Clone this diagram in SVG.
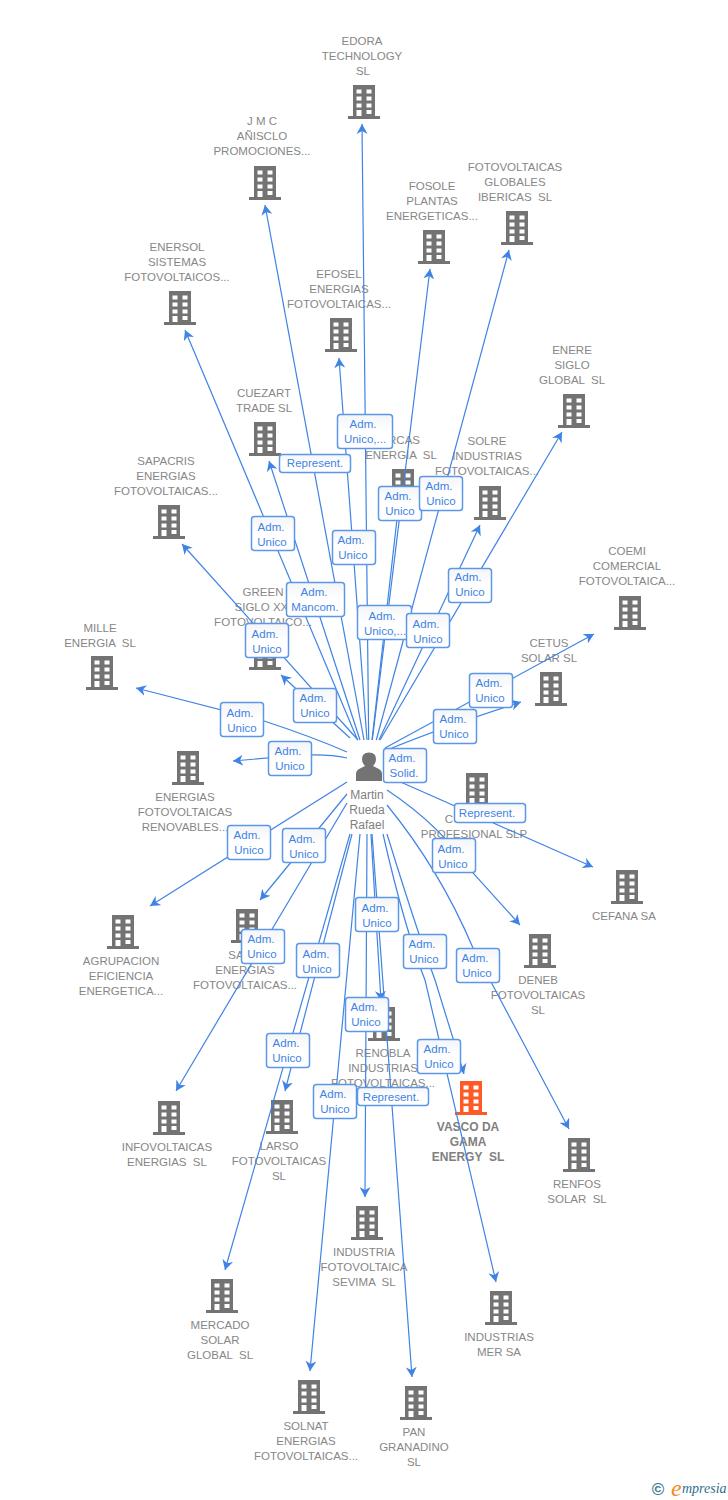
<svg xmlns="http://www.w3.org/2000/svg" width="728" height="1500" viewBox="0 0 728 1500">
<style>
text{font-family:"Liberation Sans",Arial,sans-serif;white-space:pre}
.n{font-size:11.5px;fill:#878787;text-anchor:middle}
.o{font-size:12px;fill:#808080;text-anchor:middle;font-weight:bold}
.p{font-size:12px;fill:#808080;text-anchor:middle}
.c{fill:none;stroke:#3f83e4;stroke-width:1.2;marker-end:url(#a)}
.d{fill:none;stroke:#3f83e4;stroke-width:1.2}
.b{fill:url(#g);stroke:#5b97e8;stroke-width:1.5}
.t{font-size:11.5px;fill:#3f83e4;text-anchor:middle}
.w{fill:#fff}
</style>
<defs>
<linearGradient id="g" x1="0" y1="0" x2="0" y2="1"><stop offset="0" stop-color="#f4f5f7"/><stop offset="0.5" stop-color="#fff"/></linearGradient>
<marker id="a" markerUnits="userSpaceOnUse" markerWidth="14" markerHeight="14" refX="10" refY="6" orient="auto"><path d="M10,6 L0,0.5 L3,6 L0,11.5 Z" fill="#3f83e4"/></marker>
<g id="bi"><path d="M-11,0H11V31H16V34H-16V31H-11Z"/><path class="w" d="M-7.500,4.500h5v4h-5zM2.500,4.500h5v4h-5zM-7.500,11.500h5v4h-5zM2.500,11.500h5v4h-5zM-7.500,18.500h5v4h-5zM2.500,18.500h5v4h-5zM-7.500,25h5v6h-5zM2.500,25h5v4h-5z"/></g>
</defs>
<rect width="728" height="1500" fill="#fff"/>
<g id="n-edora" fill="#737373"><use href="#bi" x="364" y="85"/><text class="n" x="362" y="45">EDORA</text><text class="n" x="362" y="60">TECHNOLOGY</text><text class="n" x="363" y="75">SL</text></g>
<g id="n-jmc" fill="#737373"><use href="#bi" x="265" y="166"/><text class="n" x="262" y="125">J M C</text><text class="n" x="262" y="140">AÑISCLO</text><text class="n" x="262" y="155">PROMOCIONES...</text></g>
<g id="n-fosole" fill="#737373"><use href="#bi" x="434" y="230"/><text class="n" x="432" y="190">FOSOLE</text><text class="n" x="432" y="205">PLANTAS</text><text class="n" x="432" y="220">ENERGETICAS...</text></g>
<g id="n-globales" fill="#737373"><use href="#bi" x="517" y="211"/><text class="n" x="515" y="171">FOTOVOLTAICAS</text><text class="n" x="515" y="186">GLOBALES</text><text class="n" x="515" y="201">IBERICAS  SL</text></g>
<g id="n-enersol" fill="#737373"><use href="#bi" x="180" y="291"/><text class="n" x="177" y="251">ENERSOL</text><text class="n" x="177" y="266">SISTEMAS</text><text class="n" x="177" y="281">FOTOVOLTAICOS...</text></g>
<g id="n-efosel" fill="#737373"><use href="#bi" x="341" y="318"/><text class="n" x="339" y="278">EFOSEL</text><text class="n" x="339" y="293">ENERGIAS</text><text class="n" x="339" y="308">FOTOVOLTAICAS...</text></g>
<g id="n-enere" fill="#737373"><use href="#bi" x="574" y="394"/><text class="n" x="572" y="354">ENERE</text><text class="n" x="572" y="369">SIGLO</text><text class="n" x="572" y="384">GLOBAL  SL</text></g>
<g id="n-cuezart" fill="#737373"><use href="#bi" x="265" y="422"/><text class="n" x="264" y="397">CUEZART</text><text class="n" x="264" y="412">TRADE SL</text></g>
<g id="n-arcas" fill="#737373"><use href="#bi" x="403" y="469"/><text class="n" x="420" y="444" style="text-anchor:end">RCAS</text><text class="n" x="401" y="459">ENERGIA  SL</text></g>
<g id="n-solre" fill="#737373"><use href="#bi" x="490" y="486"/><text class="n" x="487" y="445">SOLRE</text><text class="n" x="487" y="460">INDUSTRIAS</text><text class="n" x="487" y="475">FOTOVOLTAICAS...</text></g>
<g id="n-sapacris" fill="#737373"><use href="#bi" x="169" y="505"/><text class="n" x="166" y="465">SAPACRIS</text><text class="n" x="166" y="480">ENERGIAS</text><text class="n" x="166" y="495">FOTOVOLTAICAS...</text></g>
<g id="n-coemi" fill="#737373"><use href="#bi" x="630" y="596"/><text class="n" x="627" y="555">COEMI</text><text class="n" x="627" y="570">COMERCIAL</text><text class="n" x="627" y="585">FOTOVOLTAICA...</text></g>
<g id="n-green" fill="#737373"><use href="#bi" x="265" y="636"/><text class="n" x="263" y="596">GREEN</text><text class="n" x="263" y="611">SIGLO XXI</text><text class="n" x="263" y="626">FOTOVOLTAICO...</text></g>
<g id="n-cetus" fill="#737373"><use href="#bi" x="551" y="672"/><text class="n" x="549" y="647">CETUS</text><text class="n" x="549" y="662">SOLAR SL</text></g>
<g id="n-mille" fill="#737373"><use href="#bi" x="102" y="656"/><text class="n" x="100" y="632">MILLE</text><text class="n" x="100" y="647">ENERGIA  SL</text></g>
<g id="n-renovables" fill="#737373"><use href="#bi" x="188" y="751"/><text class="n" x="185" y="801">ENERGIAS</text><text class="n" x="185" y="816">FOTOVOLTAICAS</text><text class="n" x="185" y="831">RENOVABLES...</text></g>
<g id="n-profesional" fill="#737373"><use href="#bi" x="477" y="773"/><text class="n" x="449" y="823">C</text><text class="n" x="474" y="838">PROFESIONAL SLP</text></g>
<g id="n-cefana" fill="#737373"><use href="#bi" x="627" y="870"/><text class="n" x="624" y="920">CEFANA SA</text></g>
<g id="n-agrupacion" fill="#737373"><use href="#bi" x="123" y="915"/><text class="n" x="121" y="965">AGRUPACION</text><text class="n" x="121" y="980">EFICIENCIA</text><text class="n" x="121" y="995">ENERGETICA...</text></g>
<g id="n-sa" fill="#737373"><use href="#bi" x="247" y="909"/><text class="n" x="236" y="959">SA</text><text class="n" x="245" y="974">ENERGIAS</text><text class="n" x="245" y="989">FOTOVOLTAICAS...</text></g>
<g id="n-deneb" fill="#737373"><use href="#bi" x="540" y="934"/><text class="n" x="538" y="984">DENEB</text><text class="n" x="538" y="999">FOTOVOLTAICAS</text><text class="n" x="538" y="1014">SL</text></g>
<g id="n-renobla" fill="#737373"><use href="#bi" x="384" y="1007"/><text class="n" x="383" y="1057">RENOBLA</text><text class="n" x="383" y="1072">INDUSTRIAS</text><text class="n" x="383" y="1087">FOTOVOLTAICAS...</text></g>
<g id="n-vasco" fill="#ff5a26"><use href="#bi" x="471" y="1081"/><text class="o" x="468" y="1131">VASCO DA</text><text class="o" x="468" y="1146">GAMA</text><text class="o" x="468" y="1161">ENERGY  SL</text></g>
<g id="n-infovoltaicas" fill="#737373"><use href="#bi" x="169" y="1101"/><text class="n" x="167" y="1151">INFOVOLTAICAS</text><text class="n" x="167" y="1166">ENERGIAS  SL</text></g>
<g id="n-larso" fill="#737373"><use href="#bi" x="282" y="1100"/><text class="n" x="279" y="1150">LARSO</text><text class="n" x="279" y="1165">FOTOVOLTAICAS</text><text class="n" x="279" y="1180">SL</text></g>
<g id="n-renfos" fill="#737373"><use href="#bi" x="579" y="1138"/><text class="n" x="577" y="1188">RENFOS</text><text class="n" x="577" y="1203">SOLAR  SL</text></g>
<g id="n-sevima" fill="#737373"><use href="#bi" x="367" y="1206"/><text class="n" x="364" y="1256">INDUSTRIA</text><text class="n" x="364" y="1271">FOTOVOLTAICA</text><text class="n" x="364" y="1286">SEVIMA  SL</text></g>
<g id="n-mer" fill="#737373"><use href="#bi" x="501" y="1291"/><text class="n" x="499" y="1341">INDUSTRIAS</text><text class="n" x="499" y="1356">MER SA</text></g>
<g id="n-mercado" fill="#737373"><use href="#bi" x="222" y="1279"/><text class="n" x="220" y="1329">MERCADO</text><text class="n" x="220" y="1344">SOLAR</text><text class="n" x="220" y="1359">GLOBAL  SL</text></g>
<g id="n-solnat" fill="#737373"><use href="#bi" x="309" y="1380"/><text class="n" x="306" y="1430">SOLNAT</text><text class="n" x="306" y="1445">ENERGIAS</text><text class="n" x="306" y="1460">FOTOVOLTAICAS...</text></g>
<g id="n-pan" fill="#737373"><use href="#bi" x="416" y="1386"/><text class="n" x="414" y="1436">PAN</text><text class="n" x="414" y="1451">GRANADINO</text><text class="n" x="414" y="1466">SL</text></g>
<g id="n-person"><path fill="#737373" d="M356,781v-7q0,-4 4,-5.500l5,-2.500q-3,-3 -3,-7q0,-6.500 7,-6.500t7,6.500q0,4 -3,7l5,2.500q4,1.500 4,5.500v7z"/><text class="p" x="367" y="799">Martin</text><text class="p" x="367" y="814">Rueda</text><text class="p" x="367" y="829">Rafael</text></g>
<g id="connectors">
<path class="c" d="M368.700,740L362,124"/>
<path class="c" d="M364,740L265,205"/>
<path class="c" d="M372.300,740L430,269"/>
<path class="c" d="M376.300,740L509,250"/>
<path class="c" d="M357.600,740L185,330"/>
<path class="c" d="M367,740L339,358"/>
<path class="c" d="M380,740L562,432"/>
<path class="c" d="M360,740L269,461"/>
<path class="d" d="M372,740L398,510"/>
<path class="c" d="M379,740L480,525"/>
<path class="c" d="M358,740L182,544"/>
<path class="c" d="M350,738L281,675"/>
<path class="c" d="M385,748L594,634"/>
<path class="c" d="M387,750Q440,728 521,702"/>
<path class="c" d="M347,752Q310,736 264,721L136,688"/>
<path class="c" d="M347,758Q325,753 290,756L233,761"/>
<path class="c" d="M387,776L593,867"/>
<path class="c" d="M347,782L150,906"/>
<path class="c" d="M347,794L260,900"/>
<path class="c" d="M347,803L176,1091"/>
<path class="c" d="M387,790Q440,825 473,873L520,925"/>
<path class="c" d="M387,805Q440,870 473,948L569,1129"/>
<path class="c" d="M352,834L285,1091"/>
<path class="c" d="M350,834L225,1270"/>
<path class="c" d="M360,834L310,1371"/>
<path class="c" d="M367,834L365,1197"/>
<path class="c" d="M371,834L381,1001"/>
<path class="c" d="M372,834L412,1377"/>
<path class="c" d="M383,834Q405,930 425,980L496,1282"/>
<path class="c" d="M387,834Q415,925 435,980L464,1074"/>
<g id="l1"><rect class="b" x="337.500" y="414.500" width="55" height="34" rx="3"/><text class="t" x="363" y="428">Adm.</text><text class="t" x="365" y="443">Unico,...</text></g>
<g id="l2"><rect class="b" x="279.500" y="454.500" width="71" height="18" rx="3"/><text class="t" x="315" y="467">Represent.</text></g>
<g id="l3"><rect class="b" x="378.500" y="486.500" width="43" height="34" rx="3"/><text class="t" x="398" y="500">Adm.</text><text class="t" x="400" y="515">Unico</text></g>
<g id="l4"><rect class="b" x="419.500" y="476.500" width="43" height="34" rx="3"/><text class="t" x="439" y="490">Adm.</text><text class="t" x="441" y="505">Unico</text></g>
<g id="l5"><rect class="b" x="251.500" y="516.500" width="43" height="34" rx="3"/><text class="t" x="271" y="531">Adm.</text><text class="t" x="272" y="546">Unico</text></g>
<g id="l6"><rect class="b" x="332.500" y="530.500" width="43" height="34" rx="3"/><text class="t" x="351" y="544">Adm.</text><text class="t" x="353" y="559">Unico</text></g>
<g id="l7"><rect class="b" x="286.500" y="582.500" width="58" height="34" rx="3"/><text class="t" x="314" y="596">Adm.</text><text class="t" x="315" y="611">Mancom.</text></g>
<g id="l8"><rect class="b" x="357.500" y="605.500" width="54" height="34" rx="3"/><text class="t" x="382" y="620">Adm.</text><text class="t" x="385" y="635">Unico,...</text></g>
<g id="l9"><rect class="b" x="406.500" y="613.500" width="43" height="34" rx="3"/><text class="t" x="426" y="628">Adm.</text><text class="t" x="428" y="643">Unico</text></g>
<g id="l10"><rect class="b" x="448.500" y="568.500" width="43" height="34" rx="3"/><text class="t" x="468" y="581">Adm.</text><text class="t" x="470" y="596">Unico</text></g>
<g id="l11"><rect class="b" x="245.500" y="623.500" width="43" height="34" rx="3"/><text class="t" x="265" y="638">Adm.</text><text class="t" x="267" y="653">Unico</text></g>
<g id="l12"><rect class="b" x="293.500" y="688.500" width="43" height="34" rx="3"/><text class="t" x="313" y="702">Adm.</text><text class="t" x="315" y="717">Unico</text></g>
<g id="l13"><rect class="b" x="469.500" y="673.500" width="43" height="34" rx="3"/><text class="t" x="489" y="687">Adm.</text><text class="t" x="490" y="702">Unico</text></g>
<g id="l14"><rect class="b" x="433.500" y="709.500" width="43" height="34" rx="3"/><text class="t" x="453" y="723">Adm.</text><text class="t" x="454" y="738">Unico</text></g>
<g id="l15"><rect class="b" x="220.500" y="702.500" width="43" height="34" rx="3"/><text class="t" x="240" y="717">Adm.</text><text class="t" x="242" y="732">Unico</text></g>
<g id="l16"><rect class="b" x="268.500" y="741.500" width="43" height="34" rx="3"/><text class="t" x="288" y="755">Adm.</text><text class="t" x="290" y="770">Unico</text></g>
<g id="l17"><rect class="b" x="383.500" y="748.500" width="43" height="34" rx="3"/><text class="t" x="402" y="762">Adm.</text><text class="t" x="404" y="777">Solid.</text></g>
<g id="l18"><rect class="b" x="454.500" y="803.500" width="71" height="19" rx="3"/><text class="t" x="487" y="817">Represent.</text></g>
<g id="l19"><rect class="b" x="432.500" y="838.500" width="43" height="34" rx="3"/><text class="t" x="451" y="853">Adm.</text><text class="t" x="453" y="868">Unico</text></g>
<g id="l20"><rect class="b" x="227.500" y="825.500" width="43" height="34" rx="3"/><text class="t" x="247" y="839">Adm.</text><text class="t" x="249" y="854">Unico</text></g>
<g id="l21"><rect class="b" x="282.500" y="828.500" width="43" height="34" rx="3"/><text class="t" x="302" y="843">Adm.</text><text class="t" x="304" y="858">Unico</text></g>
<g id="l22"><rect class="b" x="355.500" y="897.500" width="43" height="34" rx="3"/><text class="t" x="375" y="912">Adm.</text><text class="t" x="377" y="927">Unico</text></g>
<g id="l23"><rect class="b" x="241.500" y="929.500" width="43" height="34" rx="3"/><text class="t" x="261" y="943">Adm.</text><text class="t" x="262" y="958">Unico</text></g>
<g id="l24"><rect class="b" x="296.500" y="943.500" width="43" height="34" rx="3"/><text class="t" x="316" y="958">Adm.</text><text class="t" x="317" y="973">Unico</text></g>
<g id="l25"><rect class="b" x="403.500" y="934.500" width="43" height="34" rx="3"/><text class="t" x="422" y="948">Adm.</text><text class="t" x="424" y="963">Unico</text></g>
<g id="l26"><rect class="b" x="456.500" y="948.500" width="43" height="34" rx="3"/><text class="t" x="475" y="962">Adm.</text><text class="t" x="477" y="977">Unico</text></g>
<g id="l27"><rect class="b" x="345.500" y="997.500" width="43" height="34" rx="3"/><text class="t" x="364" y="1011">Adm.</text><text class="t" x="366" y="1026">Unico</text></g>
<g id="l28"><rect class="b" x="417.500" y="1039.500" width="43" height="34" rx="3"/><text class="t" x="437" y="1053">Adm.</text><text class="t" x="439" y="1068">Unico</text></g>
<g id="l29"><rect class="b" x="266.500" y="1033.500" width="43" height="34" rx="3"/><text class="t" x="286" y="1047">Adm.</text><text class="t" x="287" y="1062">Unico</text></g>
<g id="l30"><rect class="b" x="313.500" y="1084.500" width="43" height="34" rx="3"/><text class="t" x="333" y="1098">Adm.</text><text class="t" x="335" y="1113">Unico</text></g>
<g id="l31"><rect class="b" x="357.500" y="1087.500" width="71" height="18" rx="3"/><text class="t" x="391" y="1101">Represent.</text></g>
</g>
<g id="logo"><text x="658" y="1495" font-size="17" text-anchor="middle" fill="#3c7a94" font-weight="bold">©</text><text x="671" y="1496" font-size="24" font-style="italic" fill="#f28a20" style="font-family:'Liberation Serif',serif">e</text><text x="682" y="1493" font-size="14" font-style="italic" fill="#2f6f8c" style="font-family:'Liberation Serif',serif">mpresia</text></g>
</svg>
